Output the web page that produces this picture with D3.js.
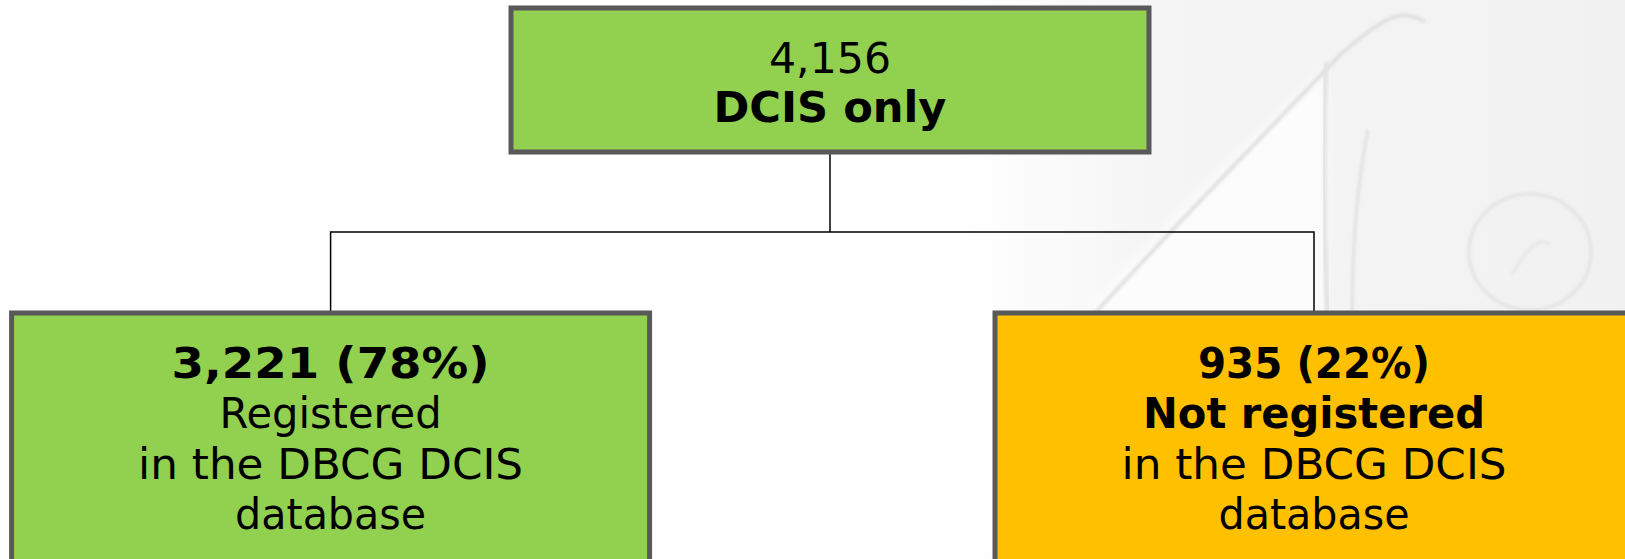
<!DOCTYPE html>
<html>
<head>
<meta charset="utf-8">
<script src="https://cdn.jsdelivr.net/npm/d3@7"></script>
<style>
  html, body { margin: 0; padding: 0; background: #ffffff; }
  svg { display: block; }
</style>
</head>
<body>
<svg id="chart" width="1625" height="559"></svg>
<script>
// ---- data ----
const nodeIds      = ["root", "registered", "notRegistered"];
const nodeParents  = [null, "root", "root"];
const nodeCounts   = [4156, 3221, 935];
const nodePercents = [null, 78, 22];
const nodeTitles   = ["DCIS only", "Registered", "Not registered"];
const nodeSubtitle = ["", "in the DBCG DCIS", "in the DBCG DCIS"];
const nodeTail     = ["", "database", "database"];
const nodeColors   = ["#92D050", "#92D050", "#FFC000"];

const W = 1625, H = 559;
const svg = d3.select("#chart");
const fmt = d3.format(",");

// ---- faint background sketch ----
const defs = svg.append("defs");
const grad = defs.append("linearGradient").attr("id", "bgGrad")
  .attr("x1", "0%").attr("x2", "100%").attr("y1", "0%").attr("y2", "0%");
grad.append("stop").attr("offset", "0%").attr("stop-color", "#ffffff");
grad.append("stop").attr("offset", "30%").attr("stop-color", "#f5f5f5");
grad.append("stop").attr("offset", "100%").attr("stop-color", "#f1f1f1");
const blur = defs.append("filter").attr("id", "soft");
blur.append("feGaussianBlur").attr("stdDeviation", 1.6);
const blur2 = defs.append("filter").attr("id", "soft2");
blur2.append("feGaussianBlur").attr("stdDeviation", 6);

const bg = svg.append("g").attr("class", "sketch");
bg.append("rect").attr("x", 960).attr("y", 0).attr("width", W - 960).attr("height", H)
  .attr("fill", "url(#bgGrad)");
// whiter wedge below the diagonal stroke
bg.append("path")
  .attr("d", "M1070,330 C1150,240 1240,150 1325,70 L1325,330 Z")
  .attr("fill", "#fcfcfc").attr("filter", "url(#soft2)");
// diagonal stroke
bg.append("path")
  .attr("d", "M1080,330 C1160,240 1250,150 1340,55 C1370,28 1392,15 1404,15 C1410,15 1418,18 1425,22")
  .attr("fill", "none").attr("stroke", "#dedede").attr("stroke-width", 3.5).attr("filter", "url(#soft)");
// vertical strokes
bg.append("path")
  .attr("d", "M1326,62 C1323,140 1323,230 1328,320")
  .attr("fill", "none").attr("stroke", "#e3e3e3").attr("stroke-width", 5).attr("filter", "url(#soft)");
bg.append("path")
  .attr("d", "M1368,130 C1358,180 1352,240 1352,320")
  .attr("fill", "none").attr("stroke", "#e0e0e0").attr("stroke-width", 3).attr("filter", "url(#soft)");
bg.append("ellipse").attr("cx", 1530).attr("cy", 252).attr("rx", 61).attr("ry", 58)
  .attr("fill", "none").attr("stroke", "#e2e2e2").attr("stroke-width", 3).attr("filter", "url(#soft)");
bg.append("path")
  .attr("d", "M1512,275 C1525,250 1540,235 1550,245")
  .attr("fill", "none").attr("stroke", "#e6e6e6").attr("stroke-width", 3).attr("filter", "url(#soft)");

// ---- hierarchy & layout ----
const table = nodeIds.map((id, i) => ({
  id, parent: nodeParents[i], count: nodeCounts[i], pct: nodePercents[i],
  title: nodeTitles[i], sub: nodeSubtitle[i], tail: nodeTail[i], color: nodeColors[i]
}));
const root = d3.stratify().id(d => d.id).parentId(d => d.parent)(table);

const xScale = d3.scalePoint().domain(root.children.map(d => d.id)).range([330.6, 1314]);
const yScale = d3.scalePoint().domain([0, 1]).range([8, 313]);
root.x = 830;
root.children.forEach(c => { c.x = xScale(c.id); });

const rootBox = { w: 638, h: 144 };
const childBox = { w: 638, h: 260 };

// connectors
const midY = 232;
const links = svg.append("g").attr("fill", "none").attr("stroke", "#000").attr("stroke-width", 1.5);
links.append("path").attr("d", `M${root.x},${yScale(0) + rootBox.h}V${midY}`);
links.append("path").attr("d",
  `M${root.children[0].x},${yScale(1)}V${midY}H${root.children[root.children.length - 1].x}V${yScale(1)}`);

// boxes
const nodes = root.descendants();
const g = svg.append("g");
const boxG = g.selectAll("g.node").data(nodes).join("g").attr("class", "node");
boxG.append("rect")
  .attr("x", d => d.x - (d.depth ? childBox.w : rootBox.w) / 2)
  .attr("y", d => yScale(d.depth))
  .attr("width", d => d.depth ? childBox.w : rootBox.w)
  .attr("height", d => d.depth ? childBox.h : rootBox.h)
  .attr("fill", d => d.data.color)
  .attr("stroke", "#595959").attr("stroke-width", 5);

// text
const fontFam = "'DejaVu Sans Condensed', 'DejaVu Sans', sans-serif";
function addText(sel, x, y, txt, bold, targetW) {
  const t = sel.append("text").attr("x", x).attr("y", y)
    .attr("text-anchor", "middle").attr("font-family", fontFam)
    .attr("font-size", 43).attr("font-weight", bold ? "bold" : "normal")
    .attr("fill", "#000").text(txt);
  if (targetW) t.attr("textLength", targetW).attr("lengthAdjust", "spacingAndGlyphs");
  return t;
}
const rootG = boxG.filter(d => d.depth === 0);
rootG.each(function(d) {
  const s = d3.select(this);
  addText(s, d.x, 72.5, fmt(d.data.count), false, 122);
  addText(s, d.x, 122, d.data.title, true, 233);
});
boxG.filter(d => d.depth === 1).each(function(d, i) {
  const s = d3.select(this);
  addText(s, d.x, 378, `${fmt(d.data.count)} (${d.data.pct}%)`, true, i === 0 ? 318 : 232);
  addText(s, d.x, 428, d.data.title, i === 1, i === 0 ? 222 : 342);
  addText(s, d.x, 479, d.data.sub, false, 385);
  addText(s, d.x, 528.5, d.data.tail, false, 191);
});
</script>
</body>
</html>
